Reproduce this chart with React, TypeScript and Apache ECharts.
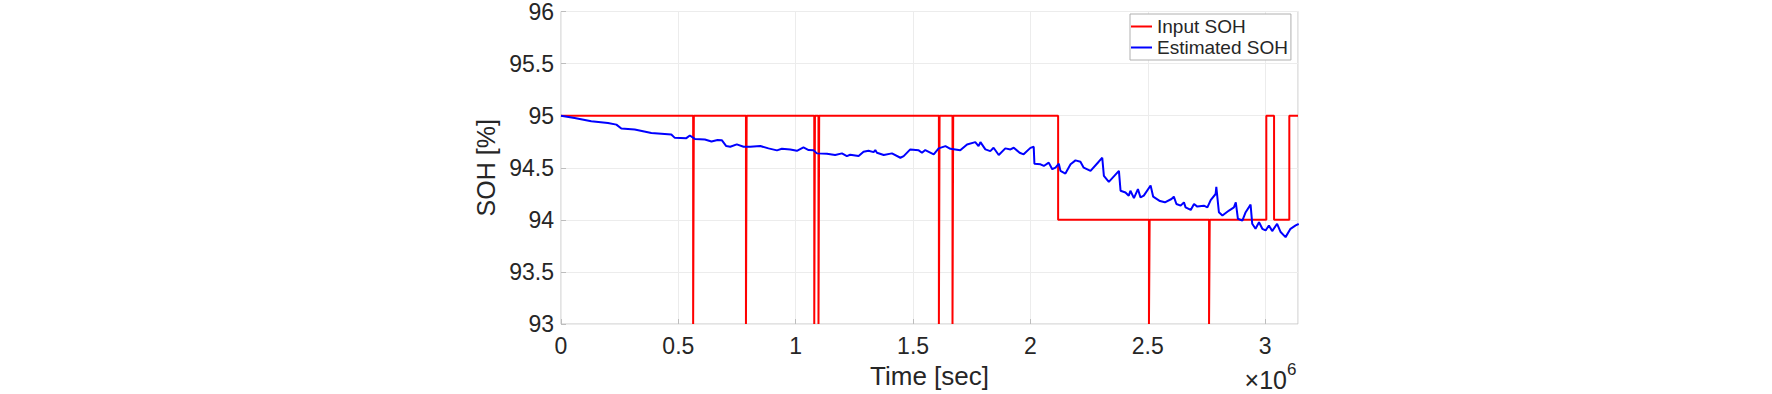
import React, { useEffect, useRef } from "react";
import * as echarts from "echarts";

// Time in units of 10^6 sec
const xTickInterval = 0.5;
const xMin = 0;
const xMax = 3.14;
const yMin = 93;
const yMax = 96;
const yTickInterval = 0.5;

// Input SOH: step changes (value holds until next time)
const inputTimes = [
  0, 0.563, 0.566, 0.788, 0.791, 1.079, 1.082, 1.097, 1.1, 1.61, 1.613, 1.668, 1.671,
  2.118, 2.505, 2.508, 2.761, 2.764, 3.005, 3.038, 3.103, 3.14,
];
const inputValues = [
  95, 93, 95, 93, 95, 93, 95, 93, 95, 93, 95, 93, 95,
  94, 93, 94, 93, 94, 95, 94, 95, 95,
];

// Estimated SOH
const estTimes = [
  0, 0.058, 0.129, 0.2, 0.236, 0.257, 0.314, 0.385, 0.47, 0.485, 0.534, 0.549, 0.57, 0.613,
  0.641, 0.667, 0.685, 0.704, 0.721, 0.749, 0.778, 0.806, 0.849, 0.884, 0.92, 0.941, 0.977,
  1.005, 1.033, 1.055, 1.076, 1.09, 1.133, 1.168, 1.197, 1.218, 1.232, 1.268, 1.289, 1.31,
  1.332, 1.339, 1.346, 1.375, 1.41, 1.446, 1.46, 1.488, 1.524, 1.538, 1.552, 1.588, 1.609,
  1.638, 1.659, 1.701, 1.73, 1.765, 1.779, 1.787, 1.808, 1.829, 1.843, 1.865, 1.893, 1.915,
  1.929, 1.954, 1.971, 2.0, 2.014, 2.017, 2.043, 2.057, 2.078, 2.093, 2.107, 2.121, 2.128,
  2.149, 2.171, 2.192, 2.213, 2.227, 2.256, 2.291, 2.306, 2.313, 2.334, 2.377, 2.384, 2.405,
  2.419, 2.426, 2.441, 2.458, 2.469, 2.483, 2.512, 2.523, 2.552, 2.573, 2.601, 2.611, 2.622,
  2.64, 2.654, 2.661, 2.683, 2.697, 2.711, 2.739, 2.754, 2.768, 2.789, 2.792, 2.803, 2.818,
  2.846, 2.867, 2.875, 2.884, 2.903, 2.917, 2.938, 2.945, 2.959, 2.974, 2.988, 3.002, 3.016,
  3.03, 3.051, 3.066, 3.087, 3.108, 3.13, 3.143,
];
const estValues = [
  95.0, 94.977, 94.946, 94.93, 94.914, 94.876, 94.867, 94.834, 94.819, 94.787, 94.784, 94.81,
  94.777, 94.771, 94.752, 94.767, 94.765, 94.708, 94.701, 94.724, 94.701, 94.701, 94.708,
  94.686, 94.667, 94.682, 94.676, 94.663, 94.695, 94.67, 94.667, 94.638, 94.634, 94.622,
  94.638, 94.612, 94.625, 94.612, 94.653, 94.663, 94.65, 94.67, 94.644, 94.622, 94.638,
  94.596, 94.612, 94.676, 94.667, 94.644, 94.67, 94.629, 94.686, 94.708, 94.682, 94.667,
  94.724, 94.746, 94.708, 94.746, 94.676, 94.66, 94.692, 94.622, 94.686, 94.676, 94.692,
  94.644, 94.629, 94.691, 94.701, 94.539, 94.533, 94.517, 94.549, 94.486, 94.501, 94.539,
  94.47, 94.444, 94.533, 94.571, 94.558, 94.501, 94.47, 94.558, 94.596, 94.422, 94.365,
  94.47, 94.279, 94.263, 94.232, 94.279, 94.209, 94.295, 94.215, 94.232, 94.33, 94.222,
  94.18, 94.168, 94.2, 94.222, 94.152, 94.136, 94.168, 94.12, 94.095, 94.152, 94.127,
  94.136, 94.12, 94.19, 94.248, 94.317, 94.073, 94.041, 94.089, 94.12, 94.168, 94.01,
  93.993, 94.073, 94.146, 93.962, 93.914, 93.977, 93.914, 93.898, 93.946, 93.892, 93.962,
  93.883, 93.834, 93.914, 93.946, 93.96,
];

const seriesNames = ["Input SOH", "Estimated SOH"];
const xAxisName = "Time [sec]";
const yAxisName = "SOH [%]";
const multiplierBase = "×10";
const multiplierExp = "6";

const FONT = "'Liberation Sans', Arial, Helvetica, sans-serif";
const TEXT = "#262626";

export default function App() {
  const ref = useRef<HTMLDivElement>(null);
  useEffect(() => {
    if (!ref.current) return;
    const chart = echarts.init(ref.current, undefined, { renderer: "svg" });
    const inputData = inputTimes.map((t, i) => [t, inputValues[i]]);
    const estData = estTimes.map((t, i) => [t, estValues[i]]);
    chart.setOption({
      animation: false,
      backgroundColor: "#ffffff",
      grid: {
        left: 561,
        top: 9,
        width: 737,
        height: 315,
        show: true,
        borderColor: "#c6c6c6",
        borderWidth: 1,
        backgroundColor: "transparent",
      },
      legend: {
        data: seriesNames,
        orient: "vertical",
        left: 1130,
        top: 14,
        padding: [2, 3, 2, 1],
        itemGap: 0,
        itemWidth: 21,
        itemHeight: 2,
        icon: "rect",
        selectedMode: false,
        backgroundColor: "#ffffff",
        borderColor: "#b0b0b0",
        borderWidth: 1,
        textStyle: { fontSize: 19, fontFamily: FONT, color: TEXT, lineHeight: 21 },
      },
      xAxis: {
        type: "value",
        min: xMin,
        max: xMax,
        interval: xTickInterval,
        name: xAxisName,
        nameLocation: "middle",
        nameGap: 39,
        nameTextStyle: { fontSize: 26, fontFamily: FONT, color: TEXT },
        axisLine: { show: false },
        axisTick: { show: true, inside: true, length: 5, lineStyle: { color: "#bdbdbd" } },
        axisLabel: {
          fontSize: 23,
          fontFamily: FONT,
          color: TEXT,
          margin: 10,
          showMaxLabel: false,
          formatter: (v: number) => String(Math.round(v * 10) / 10),
        },
        splitLine: { show: true, lineStyle: { color: "#ececec", width: 1 } },
      },
      yAxis: {
        type: "value",
        min: yMin,
        max: yMax,
        interval: yTickInterval,
        name: yAxisName,
        nameLocation: "middle",
        nameGap: 63,
        nameTextStyle: { fontSize: 25, fontFamily: FONT, color: TEXT },
        axisLine: { show: false },
        axisTick: { show: true, inside: true, length: 5, lineStyle: { color: "#bdbdbd" } },
        axisLabel: { fontSize: 23, fontFamily: FONT, color: TEXT, margin: 7 },
        splitLine: { show: true, lineStyle: { color: "#ececec", width: 1 } },
      },
      graphic: [
        {
          type: "text",
          right: 1772 - 1287,
          top: 367,
          style: { text: multiplierBase, fontSize: 25, fontFamily: FONT, fill: TEXT },
        },
        {
          type: "text",
          left: 1287,
          top: 361,
          style: { text: multiplierExp, fontSize: 17, fontFamily: FONT, fill: TEXT },
        },
      ],
      series: [
        {
          name: seriesNames[0],
          type: "line",
          step: "end",
          data: inputData,
          symbol: "none",
          color: "#ff0000",
          lineStyle: { color: "#ff0000", width: 2 },
          clip: true,
          z: 2,
        },
        {
          name: seriesNames[1],
          type: "line",
          data: estData,
          symbol: "none",
          color: "#0000ff",
          lineStyle: { color: "#0000ff", width: 2 },
          clip: true,
          z: 3,
        },
      ],
    });
    return () => chart.dispose();
  }, []);
  return (
    <div
      ref={ref}
      style={{ position: "absolute", left: 0, top: 0, width: 1772, height: 394, background: "#fff" }}
    />
  );
}
